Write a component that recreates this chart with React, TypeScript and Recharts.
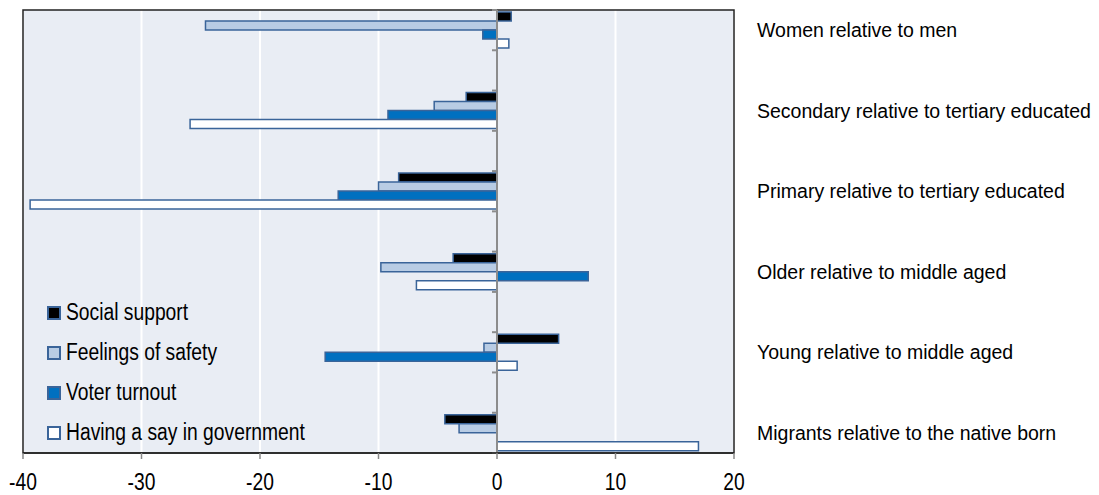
import {
  BarChart,
  Bar,
  XAxis,
  YAxis,
  CartesianGrid,
  ReferenceLine,
  ReferenceArea,
  Legend,
} from 'recharts';

const categories = [
  'Women relative to men',
  'Secondary relative to tertiary educated',
  'Primary relative to tertiary educated',
  'Older relative to middle aged',
  'Young relative to middle aged',
  'Migrants relative to the native born',
];

const socialSupport = [1.2, -2.6, -8.3, -3.7, 5.2, -4.4];
const feelingsOfSafety = [-24.6, -5.3, -10.0, -9.8, -1.1, -3.2];
const voterTurnout = [-1.2, -9.2, -13.4, 7.7, -14.5, null];
const havingASay = [1.0, -25.9, -39.4, -6.8, 1.7, 17.0];

const xTicks = [-40, -30, -20, -10, 0, 10, 20];

const seriesNames = [
  'Social support',
  'Feelings of safety',
  'Voter turnout',
  'Having a say in government',
];

const OUTLINE = '#3a6499';
const colors = ['#000000', '#b8cce4', '#0070c0', '#ffffff'];

// each group is followed by an empty slot, like the original layout
const rows: any[] = [];
categories.forEach((cat, i) => {
  rows.push({
    key: `g${i}`,
    label: cat,
    social: socialSupport[i],
    safety: feelingsOfSafety[i],
    voter: voterTurnout[i],
    say: havingASay[i],
  });
  if (i < categories.length - 1) rows.push({ key: `s${i}`, label: '' });
});

const labelFor = (key: string) => rows.find(r => r.key === key)?.label ?? '';

const font = "'Liberation Sans', Arial, sans-serif";
// no narrow font installed, so squeeze the regular one
const NARROW = 0.82;

function CategoryTick({ x, y, payload }: any) {
  const label = labelFor(payload.value);
  if (!label) return null;
  return (
    <text x={x + 23} y={y} dy={7} textAnchor="start" fontFamily={font} fontSize={19.5} fill="#000">
      {label}
    </text>
  );
}

function ValueTick({ x, y, payload }: any) {
  return (
    <text
      transform={`translate(${x} ${y + 27}) scale(${NARROW} 1)`}
      textAnchor="middle"
      fontFamily={font}
      fontSize={23.5}
      fill="#000"
    >
      {payload.value}
    </text>
  );
}

function ZeroLine(props: any) {
  const { x1, y1, y2 } = props;
  const n = rows.length;
  const step = (y2 - y1) / n;
  const marks = [];
  for (let i = 0; i <= n; i++) {
    const yy = y1 + i * step;
    marks.push(<line key={i} x1={x1 - 5} x2={x1} y1={yy} y2={yy} stroke="#8c8c8c" strokeWidth={2} />);
  }
  return (
    <g>
      <line x1={x1} x2={x1} y1={y1} y2={y2} stroke="#8c8c8c" strokeWidth={2} />
      {marks}
    </g>
  );
}

function LegendBox() {
  return (
    <div style={{ fontFamily: font, fontSize: 23.5, color: '#000', lineHeight: 1 }}>
      {seriesNames.map((name, i) => (
        <div key={name} style={{ height: 40, display: 'flex', alignItems: 'center', whiteSpace: 'nowrap' }}>
          <span
            style={{
              display: 'inline-block',
              width: 10,
              height: 10,
              background: colors[i],
              border: `2px solid ${OUTLINE}`,
              marginRight: 5,
              flex: 'none',
            }}
          />
          <span style={{ display: 'inline-block', transform: `scaleX(${NARROW})`, transformOrigin: 'left center' }}>
            {name}
          </span>
        </div>
      ))}
    </div>
  );
}

export default function App() {
  return (
    <div style={{ position: 'absolute', left: 0, top: 0, background: '#fff' }}>
      <BarChart
        width={1099}
        height={495}
        data={rows}
        layout="vertical"
        margin={{ top: 10, right: 0, left: 23, bottom: 0 }}
        barCategoryGap="5%"
        barGap={0}
      >
        <CartesianGrid horizontal={false} stroke="#ffffff" strokeWidth={2} fill="#e9edf4" />
        <XAxis
          type="number"
          domain={[-40, 20]}
          ticks={xTicks}
          height={42}
          tickSize={6}
          tickMargin={4}
          axisLine={{ stroke: '#222', strokeWidth: 1.5 }}
          tickLine={{ stroke: '#888', strokeWidth: 1.5 }}
          tick={<ValueTick />}
          allowDataOverflow
        />
        <YAxis
          type="category"
          dataKey="key"
          orientation="right"
          width={365}
          axisLine={false}
          tickLine={false}
          tickSize={0}
          tickMargin={0}
          interval={0}
          tick={<CategoryTick />}
        />
        <ReferenceArea x1={-40} x2={20} fill="none" stroke="#222" strokeWidth={1.5} ifOverflow="visible" />
        <ReferenceLine x={0} shape={<ZeroLine />} />
        <Bar dataKey="social" name={seriesNames[0]} fill={colors[0]} stroke={OUTLINE} strokeWidth={1.5} isAnimationActive={false} />
        <Bar dataKey="safety" name={seriesNames[1]} fill={colors[1]} stroke={OUTLINE} strokeWidth={1.5} isAnimationActive={false} />
        <Bar dataKey="voter" name={seriesNames[2]} fill={colors[2]} stroke={OUTLINE} strokeWidth={1.5} isAnimationActive={false} />
        <Bar dataKey="say" name={seriesNames[3]} fill={colors[3]} stroke={OUTLINE} strokeWidth={1.5} isAnimationActive={false} />
        <Legend
          layout="horizontal"
          verticalAlign="middle"
          align="center"
          content={<LegendBox />}
          wrapperStyle={{ position: 'absolute', left: 47, top: 293, width: 300, height: 160 }}
        />
      </BarChart>
    </div>
  );
}
